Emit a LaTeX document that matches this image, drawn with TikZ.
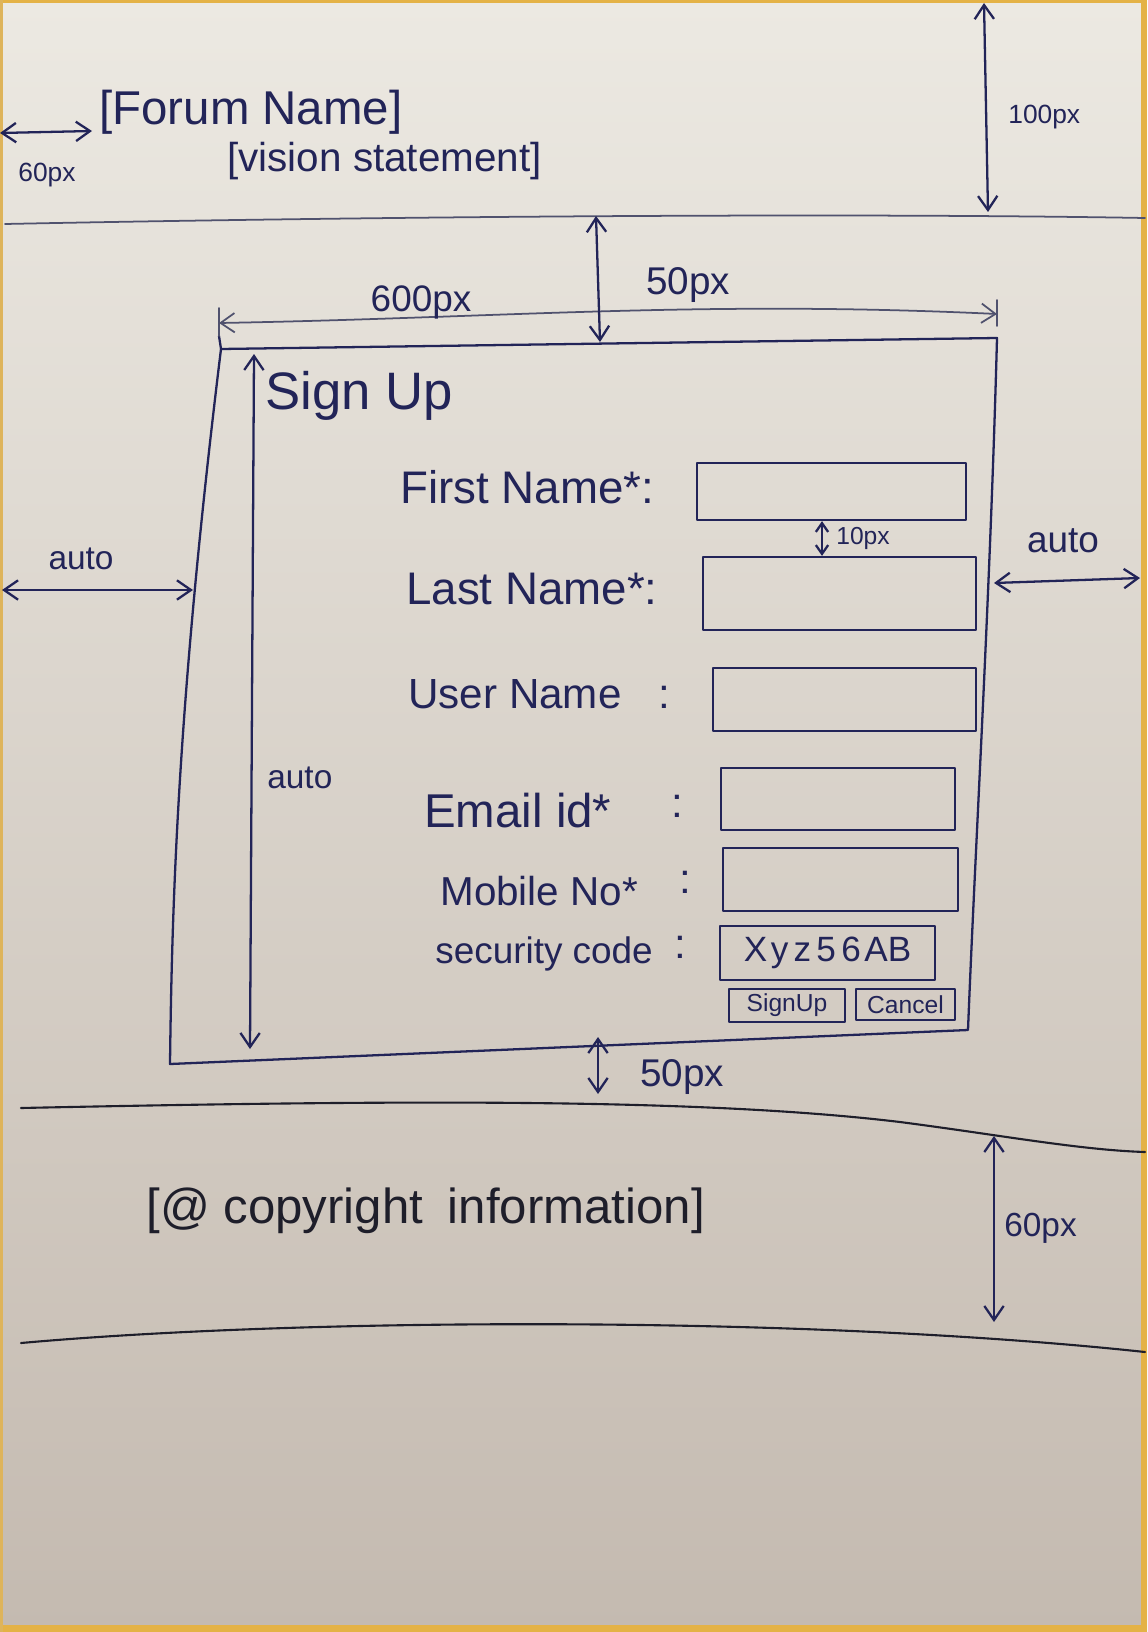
\documentclass[tikz,border=0pt]{standalone}
\usepackage{fontspec}
\setmainfont{Liberation Sans}
\usetikzlibrary{arrows.meta,fit}
\definecolor{paperTop}{RGB}{236,233,226}
\definecolor{paperBot}{RGB}{196,186,176}
\definecolor{paperEdge}{RGB}{228,178,70}
\definecolor{ink}{RGB}{34,36,88}
\definecolor{inkDark}{RGB}{30,30,42}
\definecolor{inkGrey}{RGB}{80,82,110}
\tikzset{
  pen/.style={draw=ink, line width=1.3pt, line cap=round, line join=round},
  dimline/.style={pen, {Straight Barb[length=8pt,width=11pt]}-{Straight Barb[length=8pt,width=11pt]}},
  sheet/.style={draw=inkDark, line width=1.2pt, line cap=round},
  hand/.style={text=ink, inner sep=0pt},
  note/.style={hand, font=\fontsize{15}{15}\selectfont},
  field/.style={pen, inner sep=0pt},
  btn/.style={pen, inner sep=0pt}
}
\begin{document}
\begin{tikzpicture}[x=0.02cm, y=-0.02cm]
% paper
\useasboundingbox (0,0) rectangle (1147,1632);
\shade[top color=paperTop, bottom color=paperBot] (0,0) rectangle (1147,1632);
\fill[paperEdge] (0,0) rectangle (1147,3);
\fill[paperEdge] (1141,0) rectangle (1147,1632);
\fill[paperEdge] (0,1625) rectangle (1147,1632);
\fill[paperEdge!80!paperBot] (0,0) rectangle (3,1632);

% ---------- header ----------
\draw[sheet, draw=inkGrey, line width=1pt] (5,224) .. controls (300,218) and (800,212) .. (1145,218);
\node[hand, anchor=base west, font=\fontsize{27}{27}\selectfont] (forum) at (99,125) {[Forum Name]};
\node[hand, anchor=base west, font=\fontsize{23}{23}\selectfont] (vision) at (227,172) {[vision statement]};
\coordinate (lmA) at (0,133);
\coordinate (lmB) at (92,131);
\draw[dimline] (lmA) -- (lmB);
\node[note] (lm) at (47,175) {60px};
\coordinate (hdA) at (984,3);
\coordinate (hdB) at (988,212);
\draw[dimline] (hdA) -- (hdB);
\node[note, anchor=west] (hd) at (1008,117) {100px};

% ---------- sign up box ----------
\coordinate (tl) at (221,349);
\coordinate (tr) at (997,338);
\coordinate (br) at (968,1030);
\coordinate (bl) at (170,1064);
\draw[pen] (tl) -- (tr) .. controls (990,600) and (975,850) .. (br)
  -- (bl) .. controls (172,900) and (178,700) .. (tl);
\draw[pen] (219,336) -- (tl);
% width dimension
\coordinate (wA) at (219,323);
\coordinate (wB) at (997,314);
\draw[pen, draw=inkGrey, line width=1pt] (219,308) -- (219,336);
\draw[pen, draw=inkGrey, line width=1pt] (997,300) -- (997,326);
\draw[dimline, draw=inkGrey, line width=1pt] (wA) .. controls (500,318) and (700,300) .. (wB);
\node[note, font=\fontsize{21}{21}\selectfont] (w) at (421,302) {600px};
% top margin
\coordinate (tmA) at (596,216);
\coordinate (tmB) at (600,342);
\draw[dimline] (tmA) -- (tmB);
\node[note, font=\fontsize{22}{22}\selectfont] (tm) at (688,285) {50px};
% side margins
\coordinate (slA) at (2,590);
\coordinate (slB) at (193,590);
\draw[dimline] (slA) -- (slB);
\node[note, font=\fontsize{19}{19}\selectfont] (sl) at (81,559) {auto};
\coordinate (srA) at (994,583);
\coordinate (srB) at (1140,578);
\draw[dimline] (srA) -- (srB);
\node[note, font=\fontsize{21}{21}\selectfont] (sr) at (1063,541) {auto};
% inner height
\coordinate (ihA) at (254,354);
\coordinate (ihB) at (250,1049);
\draw[dimline] (ihA) -- (ihB);
\node[note, anchor=base west, font=\fontsize{19}{19}\selectfont] (ih) at (267,788) {auto};

\node[hand, anchor=base west, font=\fontsize{30}{30}\selectfont] (title) at (265,409) {Sign Up};

% labels
\node[hand, anchor=base west, font=\fontsize{26}{26}\selectfont] (lfn) at (400,503) {First Name*:};
\node[hand, anchor=base west, font=\fontsize{26}{26}\selectfont] (lln) at (406,604) {Last Name*:};
\node[hand, anchor=base west, font=\fontsize{24}{24}\selectfont] (lun) at (408,708) {User Name};
\node[hand, anchor=base, font=\fontsize{24}{24}\selectfont] (cun) at (664,708) {:};
\node[hand, anchor=base west, font=\fontsize{27}{27}\selectfont] (lem) at (424,827) {Email id*};
\node[hand, anchor=base, font=\fontsize{24}{24}\selectfont] (cem) at (677,817) {:};
\node[hand, anchor=base west, font=\fontsize{23}{23}\selectfont] (lmo) at (440,905) {Mobile No*};
\node[hand, anchor=base, font=\fontsize{24}{24}\selectfont] (cmo) at (685,893) {:};
\node[hand, anchor=base west, font=\fontsize{21}{21}\selectfont] (lsc) at (435,963) {security code};
\node[hand, anchor=base, font=\fontsize{24}{24}\selectfont] (csc) at (680,958) {:};

% input fields
\node[field, fit={(697,463) (966,520)}] (ffn) {};
\node[field, fit={(703,557) (976,630)}] (fln) {};
\node[field, fit={(713,668) (976,731)}] (fun) {};
\node[field, fit={(721,768) (955,830)}] (fem) {};
\node[field, fit={(723,848) (958,911)}] (fmo) {};
\node[field, fit={(720,926) (935,980)}] (fsc) {};
\node[hand, font=\fontsize{20}{20}\selectfont] (code) at (fsc) {X\kern2pt y\kern3pt z\kern3pt 5\kern3pt 6\kern2pt AB};
\node[btn, fit={(729,989) (845,1022)}] (bsign) {};
\node[hand, font=\fontsize{14}{14}\selectfont] at (bsign) {SignUp};
\node[btn, fit={(856,989) (955,1020)}] (bcancel) {};
\node[hand, font=\fontsize{14}{14}\selectfont] at (bcancel) {Cancel};
% spacing between fields
\draw[dimline, {Straight Barb[length=5pt,width=7pt]}-{Straight Barb[length=5pt,width=7pt]}] (ffn.south -| 822,0) -- (fln.north -| 822,0);
\node[note, anchor=west, font=\fontsize{14}{14}\selectfont] (gap) at (836,538) {10px};

% ---------- footer ----------
\coordinate (bmA) at (598,1037);
\coordinate (bmB) at (598,1094);
\draw[dimline] (bmA) -- (bmB);
\node[note, anchor=west, font=\fontsize{22}{22}\selectfont] (bm) at (640,1077) {50px};
\draw[sheet] (21,1108) .. controls (400,1100) and (700,1098) .. (900,1122) .. controls (1000,1135) and (1080,1150) .. (1145,1152);
\draw[sheet] (21,1343) .. controls (300,1318) and (800,1315) .. (1145,1352);
\node[hand, text=inkDark, anchor=base west, font=\fontsize{28}{28}\selectfont] (copy) at (146,1223) {[@ copyright\enspace information]};
\coordinate (ftA) at (994,1136);
\coordinate (ftB) at (994,1322);
\draw[dimline] (ftA) -- (ftB);
\node[note, anchor=west, font=\fontsize{19}{19}\selectfont] (ft) at (1004,1228) {60px};
\end{tikzpicture}
\end{document}
